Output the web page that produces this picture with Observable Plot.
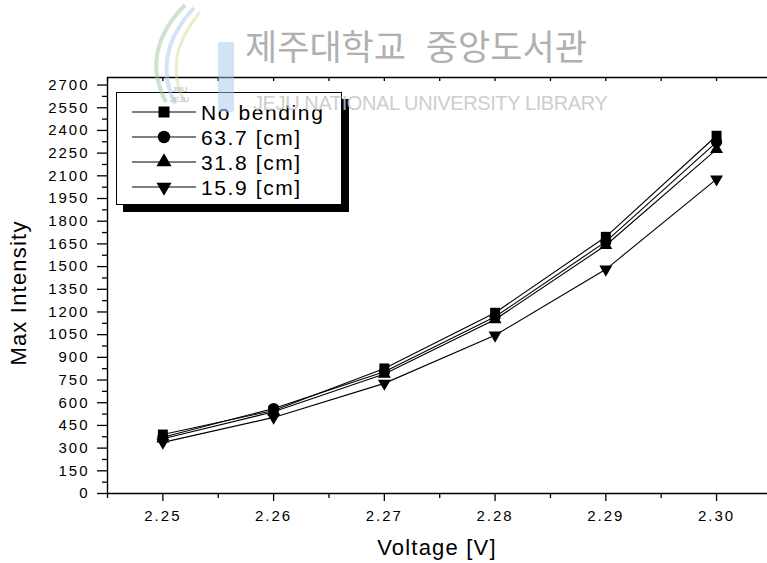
<!DOCTYPE html>
<html><head><meta charset="utf-8">
<script src="https://cdn.jsdelivr.net/npm/d3@7"></script>
<script src="https://cdn.jsdelivr.net/npm/@observablehq/plot@0.6"></script>
<style>
html,body{margin:0;padding:0;background:#fff}
body{width:767px;height:563px;overflow:hidden;position:relative;font-family:"Liberation Sans",Arial,sans-serif;color:#000}
#chart{position:absolute;left:0;top:0}
#chart svg text{letter-spacing:2px}
.ttl{position:absolute;font-size:22px;letter-spacing:1.2px;white-space:nowrap;transform:translate(-50%,-50%)}
#ytitle{left:19px;top:293px;transform:translate(-50%,-50%) rotate(-90deg)}
#xtitle{left:437px;top:548px}
#legend{position:absolute;left:116px;top:92px;width:226px;height:113px;box-sizing:border-box;border:1px solid #000;background:#fff;box-shadow:7px 7px 0 #000}
#legend svg{position:absolute;left:0;top:0}
#wm{position:absolute;left:0;top:0;width:767px;height:563px;pointer-events:none}
#wmk{position:absolute;left:245px;top:27px;font-family:"Noto Sans CJK KR",sans-serif;font-size:35px;color:#b0b0b0;white-space:nowrap;word-spacing:12px;line-height:1}
#wme{position:absolute;left:253px;top:93px;font-size:20px;color:#c6c6c6;white-space:nowrap;letter-spacing:-0.4px;line-height:1;opacity:0.85}
</style></head><body>
<div id="chart"></div>
<div class="ttl" id="ytitle">Max Intensity</div>
<div class="ttl" id="xtitle">Voltage [V]</div>
<div id="legend"></div>
<div id="wm">
<svg width="767" height="563" style="position:absolute;left:0;top:0">
<path d="M185,5 C152,38 150,72 166,102" fill="none" stroke="#9cc8a0" stroke-width="4" opacity="0.5"/>
<path d="M194,8 C164,40 160,72 175,104" fill="none" stroke="#a8cbe6" stroke-width="4" opacity="0.5"/>
<path d="M200,12 C174,44 170,72 184,102" fill="none" stroke="#c9d98a" stroke-width="3" opacity="0.45"/>
<rect x="218" y="42" width="16" height="70" rx="2" fill="#a9c6ec" opacity="0.5"/>
<text x="172" y="92" font-size="8" fill="#b8b8b8" font-family="Liberation Sans, Arial">JNU</text>
<text x="170" y="102" font-size="8" fill="#b8b8b8" font-family="Liberation Sans, Arial">JEJU</text>
</svg>
<div id="wmk">제주대학교 중앙도서관</div>
<div id="wme">JEJU NATIONAL UNIVERSITY LIBRARY</div>
</div>
<script>
// ---- data ----
const voltage = [2.25, 2.26, 2.27, 2.28, 2.29, 2.30];
const seriesNames = ["No bending", "63.7 [cm]", "31.8 [cm]", "15.9 [cm]"];
const noBending = [390, 549, 827, 1195, 1697, 2365];
const cm63_7   = [372, 562, 805, 1168, 1665, 2323];
const cm31_8   = [362, 540, 790, 1150, 1641, 2275];
const cm15_9   = [338, 503, 728, 1046, 1482, 2078];
const yTicks = [0,150,300,450,600,750,900,1050,1200,1350,1500,1650,1800,1950,2100,2250,2400,2550,2700];
const xTickLabels = ["2.25","2.26","2.27","2.28","2.29","2.30"];

const seriesValues = [noBending, cm63_7, cm31_8, cm15_9];
const rows = [];
seriesNames.forEach((s, i) => voltage.forEach((v, j) => rows.push({series: s, voltage: v, value: seriesValues[i][j]})));

const sqrt3 = Math.sqrt(3);
const triangleDown = {
  draw(context, size) {
    const y = -Math.sqrt(size / (sqrt3 * 3));
    context.moveTo(0, -y * 2);
    context.lineTo(-sqrt3 * y, y);
    context.lineTo(sqrt3 * y, y);
    context.closePath();
  }
};
const symbols = [d3.symbolSquare, d3.symbolCircle, d3.symbolTriangle, triangleDown];
const radii = [5.6, 5.6, 4.8, 4.8];

const yMinor = yTicks.slice(0, -1).map(d => d + 75);
const xMinor = [2.245, 2.255, 2.265, 2.275, 2.285, 2.295];
const xAll = voltage.concat(xMinor);
const yTop = 2750;

const marks = [
  Plot.ruleX([2.245], {stroke: "#000", strokeWidth: 1.4}),
  Plot.ruleY([0], {stroke: "#000", strokeWidth: 1.4}),
  Plot.ruleY([yTop], {stroke: "#000", strokeWidth: 1.6}),
  Plot.axisY({ticks: yTicks, tickSize: 10, tickPadding: 8, tickFormat: d => String(d), label: null, fontSize: 15, strokeWidth: 1.3}),
  Plot.axisY({ticks: yMinor, tickSize: 5, tickFormat: () => "", label: null, strokeWidth: 1.3}),
  Plot.axisX({ticks: voltage, tickSize: 8, tickPadding: 9, tickFormat: (d, i) => xTickLabels[i], label: null, fontSize: 15, strokeWidth: 1.3}),
  Plot.axisX({ticks: xMinor, tickSize: 5, tickFormat: () => "", label: null, strokeWidth: 1.3}),
  Plot.axisX({anchor: "top", ticks: xAll, tickSize: -3, tickFormat: () => "", label: null, strokeWidth: 1.3}),
  Plot.line(rows, {x: "voltage", y: "value", z: "series", stroke: "#000", strokeWidth: 1.1})
];
seriesNames.forEach((s, i) => {
  marks.push(Plot.dot(rows.filter(r => r.series === s), {x: "voltage", y: "value", symbol: symbols[i], r: radii[i], fill: "#000", stroke: "none"}));
});

const chart = Plot.plot({
  width: 767, height: 563,
  marginLeft: 107, marginTop: 77, marginBottom: 70, marginRight: 0,
  x: {domain: [2.245, 2.3046], axis: null},
  y: {domain: [0, yTop], axis: null},
  style: {fontFamily: '"Liberation Sans", Arial, sans-serif', fontSize: "15px", color: "#000", background: "#fff", overflow: "visible"},
  marks
});
document.getElementById("chart").appendChild(chart);

// ---- legend ----
const lg = d3.select("#legend").append("svg").attr("width", 226).attr("height", 113);
const rowY = [19, 44, 69, 94];
const legR = [6.2, 6.2, 5.6, 5.6];
seriesNames.forEach((s, i) => {
  const g = lg.append("g").attr("transform", `translate(0,${rowY[i]})`);
  g.append("line").attr("x1", 15).attr("x2", 79).attr("y1", 0).attr("y2", 0).attr("stroke", "#000").attr("stroke-width", 1.1);
  g.append("path").attr("transform", "translate(47,0)").attr("d", d3.symbol(symbols[i], Math.PI * legR[i] * legR[i])()).attr("fill", "#000");
  g.append("text").attr("x", 84).attr("y", 0).attr("dy", "0.36em").attr("font-size", 21).attr("letter-spacing", "1.6px").attr("font-family", '"Liberation Sans", Arial, sans-serif').text(s);
});
</script>
</body></html>
